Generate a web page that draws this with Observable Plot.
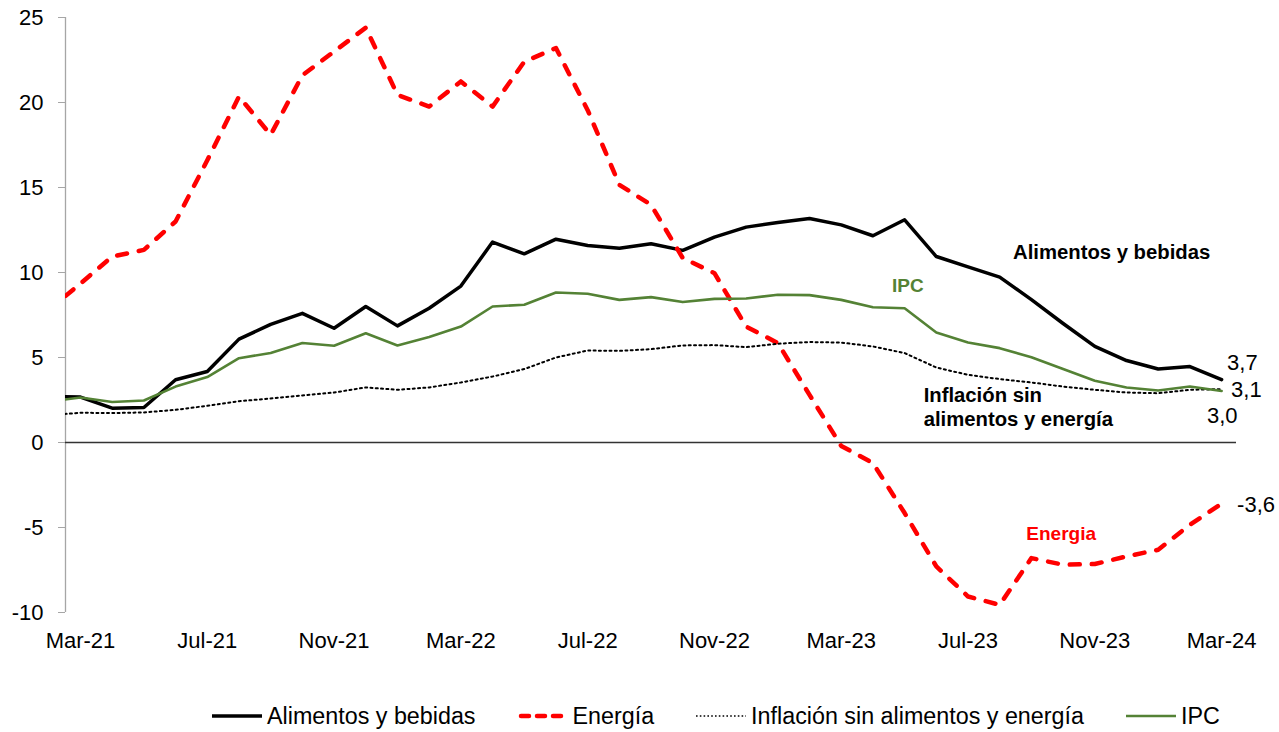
<!DOCTYPE html>
<html><head><meta charset="utf-8">
<script src="https://cdn.jsdelivr.net/npm/d3@7"></script>
<script src="https://cdn.jsdelivr.net/npm/@observablehq/plot@0.6"></script>
<style>
body{margin:0;background:#fff;font-family:Arial,"Liberation Sans",sans-serif;}
#chart{position:relative;width:1279px;height:732px;overflow:hidden;}
#legend{position:absolute;left:212px;top:704px;display:flex;align-items:center;gap:42px;font-size:23.3px;color:#000;white-space:nowrap;line-height:24px;}
.item{display:flex;align-items:center;gap:5px;}
.item svg{display:block;}
</style></head><body><div id="chart"></div>
<script>
const months = ["Feb-21","Mar-21","Apr-21","May-21","Jun-21","Jul-21","Aug-21","Sep-21","Oct-21","Nov-21","Dec-21",
  "Jan-22","Feb-22","Mar-22","Apr-22","May-22","Jun-22","Jul-22","Aug-22","Sep-22","Oct-22","Nov-22","Dec-22",
  "Jan-23","Feb-23","Mar-23","Apr-23","May-23","Jun-23","Jul-23","Aug-23","Sep-23","Oct-23","Nov-23","Dec-23",
  "Jan-24","Feb-24","Mar-24"];
const alimentos = [2.7,2.67,2.02,2.06,3.69,4.18,6.08,6.95,7.6,6.72,8.0,6.86,7.9,9.2,11.79,11.1,11.96,11.59,11.43,11.69,11.3,12.08,12.67,12.94,13.18,12.8,12.16,13.1,10.94,10.33,9.73,8.4,7.0,5.65,4.82,4.32,4.47,3.7];
const energia = [7.8,9.35,10.94,11.33,13.0,16.6,20.35,18.1,21.6,23.0,24.4,20.45,19.76,21.24,19.76,22.4,23.2,19.55,15.16,13.98,10.85,9.96,6.82,5.85,2.8,-0.2,-1.21,-4.15,-7.29,-9.06,-9.55,-6.8,-7.19,-7.15,-6.7,-6.31,-4.84,-3.6];
const subyacente = [1.6,1.75,1.73,1.77,1.92,2.16,2.43,2.59,2.77,2.94,3.24,3.1,3.24,3.53,3.88,4.32,5.0,5.41,5.39,5.49,5.71,5.73,5.61,5.81,5.91,5.88,5.65,5.26,4.41,3.98,3.73,3.53,3.29,3.1,2.94,2.9,3.1,3.14];
const ipc = [2.4,2.65,2.38,2.47,3.29,3.85,4.96,5.26,5.85,5.69,6.43,5.71,6.2,6.82,8.0,8.1,8.82,8.75,8.39,8.55,8.26,8.45,8.47,8.69,8.67,8.39,7.96,7.9,6.47,5.88,5.55,5.02,4.32,3.63,3.24,3.06,3.29,3.03];
const tickLabels = ["Mar-21","Jul-21","Nov-21","Mar-22","Jul-22","Nov-22","Mar-23","Jul-23","Nov-23","Mar-24"];
const yTicks = [-10,-5,0,5,10,15,20,25];
const seriesNames = ["Alimentos y bebidas","Energía","Inflación sin alimentos y energía","IPC"];

const rows = arr => arr.map((v, i) => ({i, v}));
const last = arr => [{i: arr.length - 1, v: arr[arr.length - 1]}];
const fmt = v => v.toFixed(1).replace(".", ",");
const xTicks = tickLabels.map(l => months.indexOf(l));
const xDomain = [0.527, 37.47];

const styles = [
  {stroke: "#000000", strokeWidth: 3.5, strokeLinejoin: "round"},
  {stroke: "#FF0000", strokeWidth: 4.5, strokeDasharray: "10,12", strokeLinecap: "round", strokeLinejoin: "round"},
  {stroke: "#000000", strokeWidth: 2, strokeDasharray: "2,3.3"},
  {stroke: "#548235", strokeWidth: 2.6, strokeLinejoin: "round"}
];
const data = [alimentos, energia, subyacente, ipc];

const plot = Plot.plot({
  width: 1279, height: 660,
  marginLeft: 65, marginRight: 43, marginTop: 17, marginBottom: 48,
  style: {fontFamily: "Arial, 'Liberation Sans', sans-serif", fontSize: "22px", color: "#000", background: "#fff", overflow: "visible"},
  x: {domain: xDomain, axis: null},
  y: {domain: [-10, 25], axis: null},
  marks: [
    Plot.ruleX([xDomain[0]], {y1: -10, y2: 25, stroke: "#A6A6A6", strokeWidth: 1.3}),
    Plot.axisY(yTicks, {tickSize: 7, tickPadding: 15, stroke: "#A6A6A6", tickFormat: d => String(d), label: null}),
    Plot.axisX(xTicks, {tickSize: 0, tickPadding: 20, tickFormat: i => months[i], label: null}),
    Plot.ruleY([0], {stroke: "#333", strokeWidth: 1.3}),
    ...data.map((arr, k) => Plot.line(rows(arr), {x: "i", y: "v", clip: true, ...styles[k]})),
    Plot.text(last(alimentos), {x: "i", y: "v", text: d => fmt(d.v), dx: 5.5, dy: -16.5, textAnchor: "start", fontSize: 22}),
    Plot.text(last(subyacente), {x: "i", y: "v", text: d => fmt(d.v), dx: 9.5, dy: 0.7, textAnchor: "start", fontSize: 22}),
    Plot.text(last(ipc), {x: "i", y: "v", text: d => fmt(d.v), dx: 16, dy: 25, textAnchor: "end", fontSize: 22}),
    Plot.text(last(energia), {x: "i", y: "v", text: d => fmt(d.v), dx: 15.5, dy: 1.6, textAnchor: "start", fontSize: 22}),
    Plot.text(["Alimentos y bebidas"], {x: 30.42, y: 11.16, text: d => d, textAnchor: "start", fontWeight: "bold", fontSize: 20.3, fill: "#000"}),
    Plot.text(["IPC"], {x: 26.6, y: 9.22, text: d => d, textAnchor: "start", fontWeight: "bold", fontSize: 19, fill: "#548235"}),
    Plot.text(["Inflación sin\nalimentos y energía"], {x: 27.6, y: 2.12, text: d => d, textAnchor: "start", fontWeight: "bold", fontSize: 20.3, lineHeight: 1.15, fill: "#000"}),
    Plot.text(["Energia"], {x: 30.84, y: -5.39, text: d => d, textAnchor: "start", fontWeight: "bold", fontSize: 19, fill: "#FF0000"})
  ]
});
const chart = document.getElementById("chart");
chart.appendChild(plot);

const legend = document.createElement("div");
legend.id = "legend";
seriesNames.forEach((name, k) => {
  const item = document.createElement("div");
  item.className = "item";
  const s = styles[k];
  const dash = k === 1 ? "8,8" : (s.strokeDasharray || "none");
  item.innerHTML = `<svg width="50" height="12"><line x1="${k===1?3:0}" y1="6" x2="${k===1?47:50}" y2="6" stroke="${s.stroke}" stroke-width="${k===2?1.6:s.strokeWidth}" stroke-dasharray="${k===2?'1.6,2.2':dash}" stroke-linecap="${k===1?'round':'butt'}"/></svg><span>${name}</span>`;
  legend.appendChild(item);
});
chart.appendChild(legend);
</script>
</body></html>
